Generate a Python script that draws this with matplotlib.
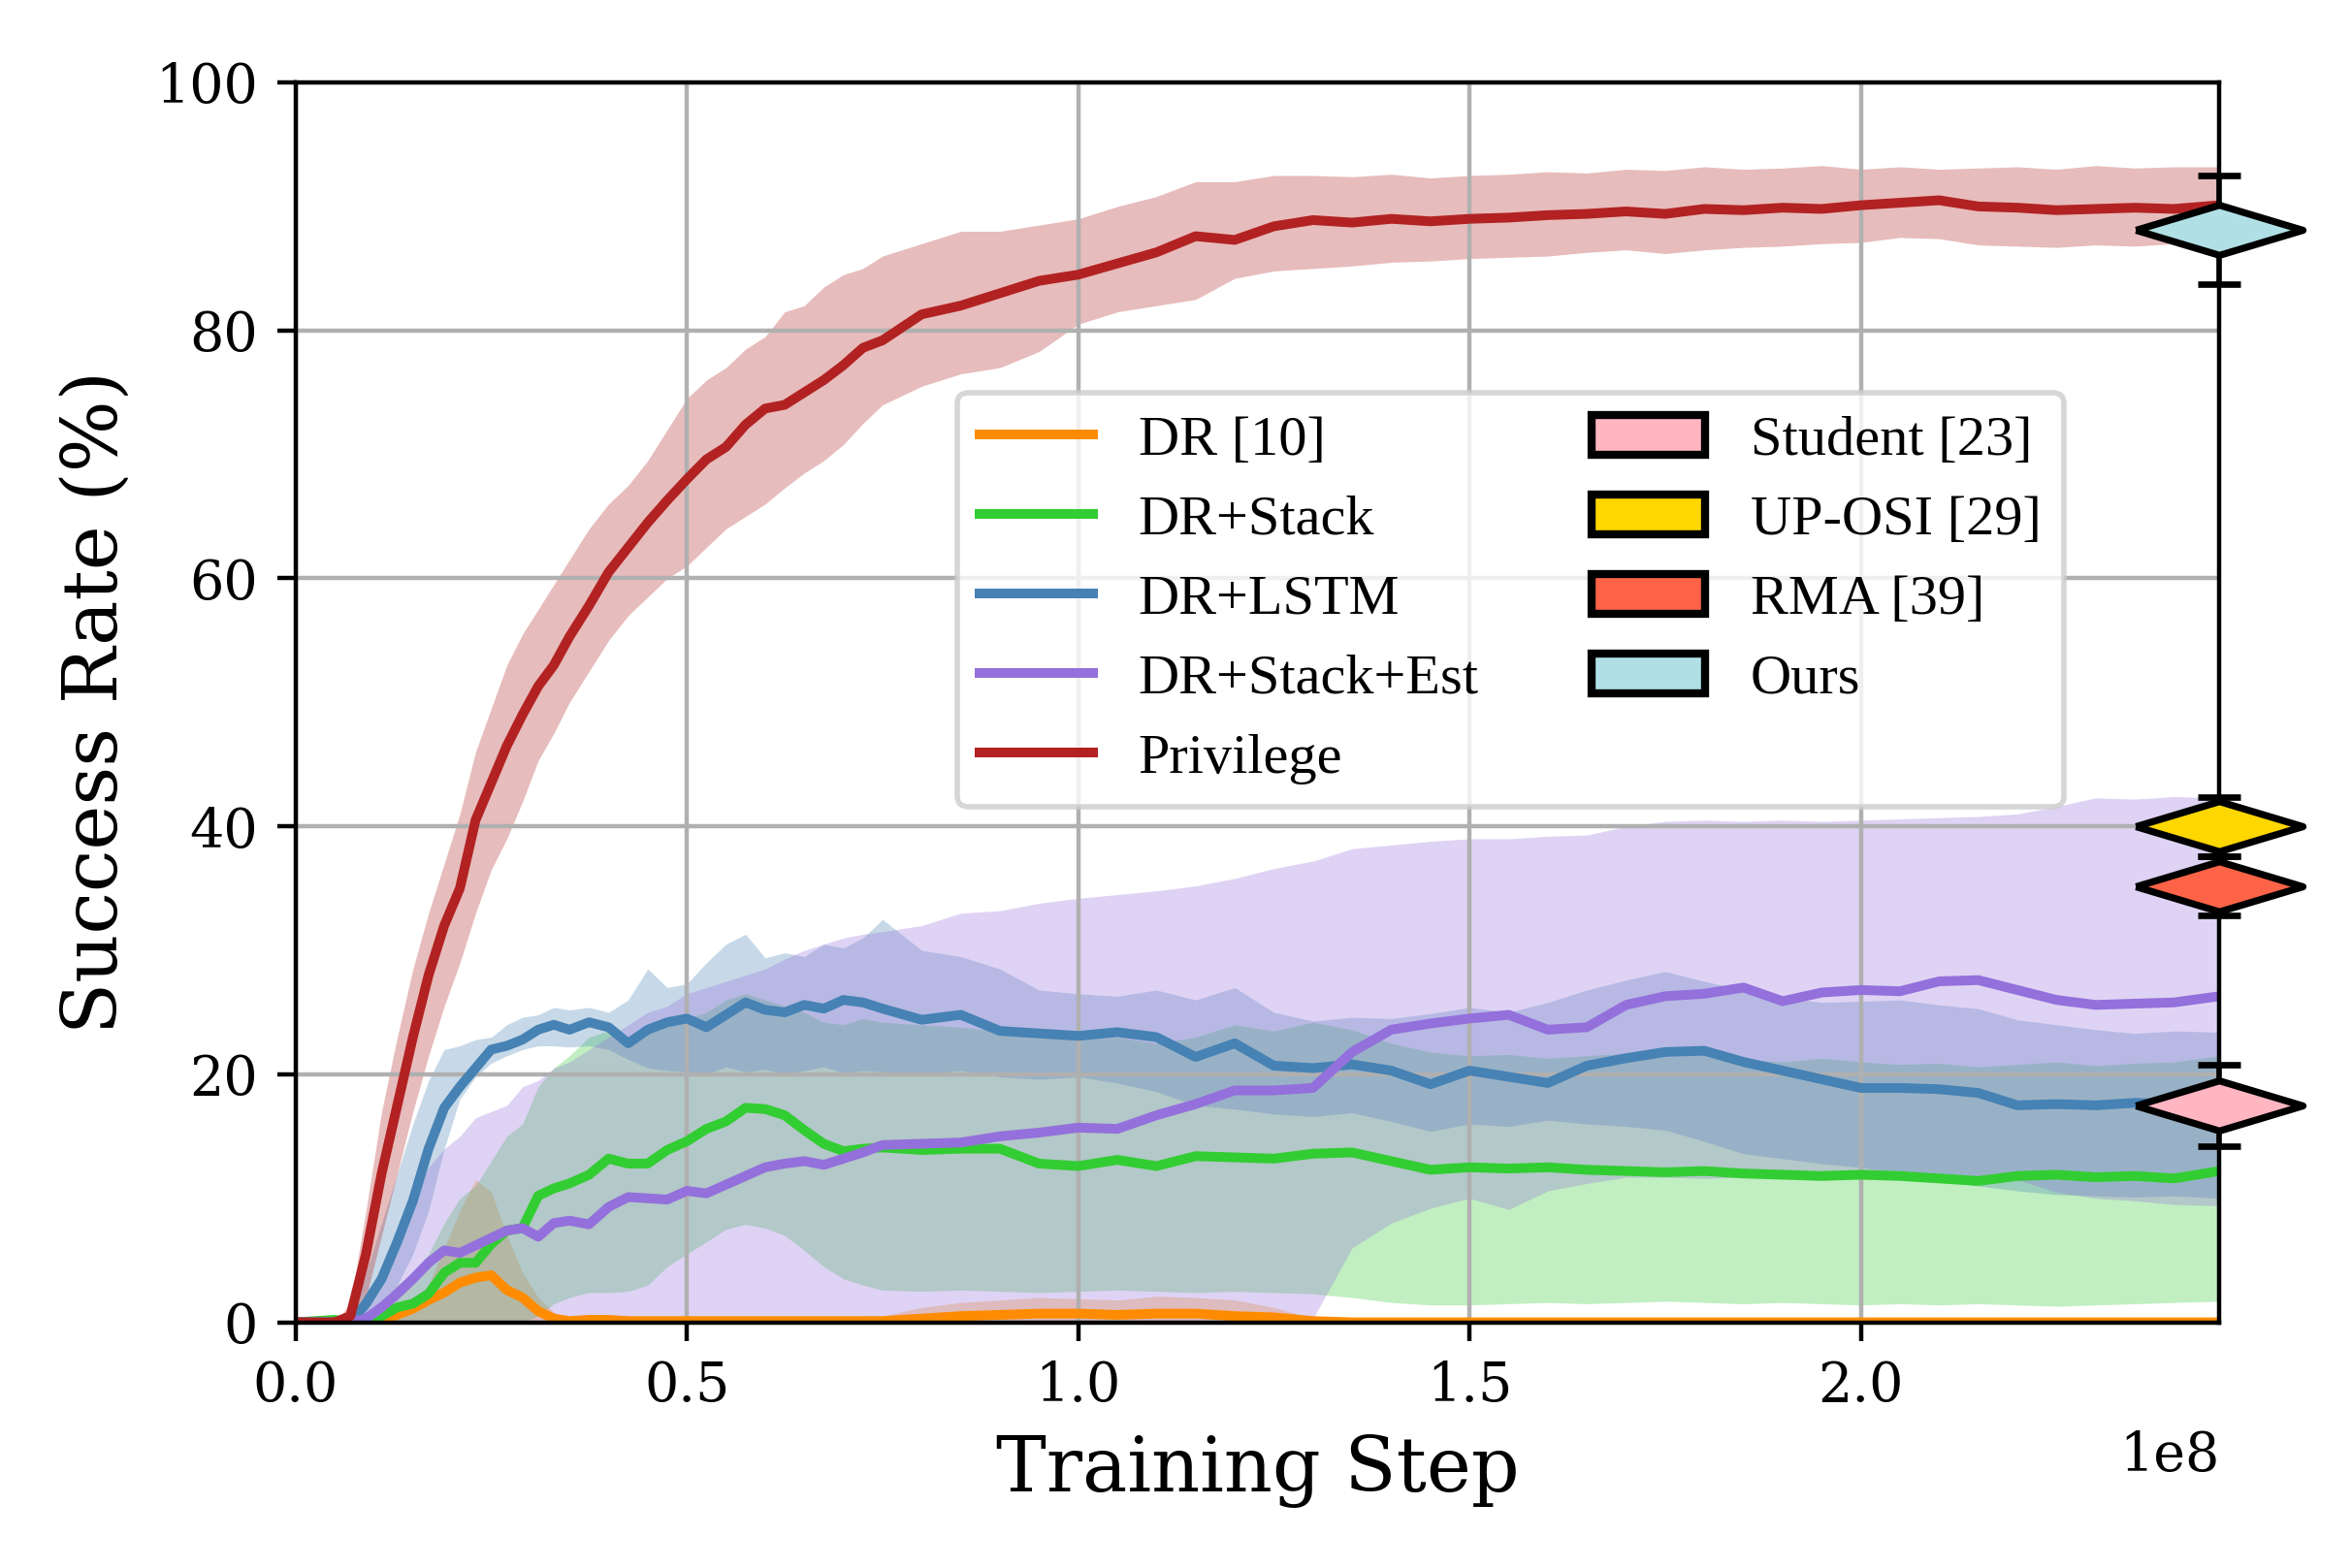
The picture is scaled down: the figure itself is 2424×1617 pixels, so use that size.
import numpy as np
import matplotlib.pyplot as plt
from matplotlib.patches import Patch

plt.rcParams["font.family"] = "DejaVu Serif"
plt.rcParams["font.size"] = 10

# x positions (in units of 1e8 training steps)
steps = [0.0, 0.05, 0.07, 0.09, 0.11, 0.13, 0.15, 0.17, 0.19, 0.21, 0.23, 0.25, 0.27, 0.29,
         0.31, 0.33, 0.35, 0.375, 0.4, 0.425, 0.45, 0.475, 0.5, 0.525, 0.55, 0.575, 0.6,
         0.625, 0.65, 0.675, 0.7, 0.725, 0.75, 0.8, 0.85, 0.9, 0.95, 1.0, 1.05, 1.1, 1.15,
         1.2, 1.25, 1.3, 1.35, 1.4, 1.45, 1.5, 1.55, 1.6, 1.65, 1.7, 1.75, 1.8, 1.85, 1.9,
         1.95, 2.0, 2.05, 2.1, 2.15, 2.2, 2.25, 2.3, 2.35, 2.4, 2.458]

# DR [10]
dr_mean = [0, 0, 0, 0, 0.2, 0.6, 1.1, 1.8, 2.4, 3.2, 3.6, 3.8, 2.6, 2.0,
           0.9, 0.3, 0.1, 0.2, 0.2, 0.1, 0.1, 0.1, 0.1, 0.1, 0.1, 0.1, 0.1,
           0.1, 0.1, 0.1, 0.1, 0.1, 0.1, 0.3, 0.5, 0.6, 0.7, 0.7, 0.6, 0.7, 0.7,
           0.5, 0.4, 0.1, 0, 0, 0, 0, 0, 0, 0, 0, 0, 0, 0, 0,
           0, 0, 0, 0, 0, 0, 0, 0, 0, 0, 0]
dr_hi = [0, 0, 0, 0, 0.3, 0.8, 1.5, 3.0, 6.0, 9.0, 11.5, 10.5, 7.0, 4.0,
         2.0, 0.8, 0.4, 0.5, 0.6, 0.5, 0.4, 0.4, 0.4, 0.4, 0.5, 0.4, 0.4,
         0.4, 0.5, 0.4, 0.4, 0.5, 0.5, 1.2, 1.6, 1.8, 2.0, 1.9, 1.8, 2.1, 2.0,
         1.8, 1.2, 0.3, 0, 0, 0, 0, 0, 0, 0, 0, 0, 0, 0, 0,
         0, 0, 0, 0, 0, 0, 0, 0, 0, 0, 0]
dr_lo = [0] * 67

# DR+Stack
stack_mean = [0, 0.2, 0, 0.1, 0.5, 1.2, 1.5, 2.3, 4.0, 4.8, 4.8, 6.3, 7.4, 7.6,
              10.2, 10.8, 11.2, 11.9, 13.2, 12.8, 12.8, 13.9, 14.6, 15.6, 16.2, 17.3, 17.2,
              16.7, 15.5, 14.4, 13.8, 14.0, 14.1, 13.9, 14.0, 14.0, 12.8, 12.6, 13.1, 12.6, 13.4,
              13.3, 13.2, 13.6, 13.7, 13.0, 12.3, 12.5, 12.4, 12.5, 12.3, 12.2, 12.1, 12.2, 12.0, 11.9,
              11.8, 11.9, 11.8, 11.6, 11.4, 11.8, 11.9, 11.7, 11.8, 11.6, 12.2]
stack_hi = [0, 0.5, 0.2, 0.5, 1.5, 3.0, 4.0, 5.5, 8.0, 10.0, 11.0, 13.0, 15.0, 16.0,
            19.0, 20.5, 21.5, 23.0, 23.5, 22.5, 23.5, 24.0, 24.5, 25.0, 26.0, 26.5, 26.0,
            25.5, 25.0, 24.2, 24.0, 24.5, 24.2, 24.0, 23.8, 23.5, 23.0, 22.8, 23.0, 22.5, 23.0,
            24.0, 23.5, 24.2, 23.6, 22.5, 21.8, 21.5, 21.6, 21.3, 21.5, 21.7, 21.4, 21.6, 21.2, 21.0,
            21.3, 21.0, 20.8, 20.9, 20.6, 20.8, 21.0, 20.7, 20.9, 21.0, 21.5]
stack_lo = [0, 0, 0, 0, 0, 0, 0, 0, 0, 0, 0, 0, 0, 0,
            0.5, 1.5, 2.0, 2.4, 2.4, 2.5, 3.0, 4.5, 5.5, 6.5, 7.5, 7.9, 7.6,
            7.0, 5.8, 4.5, 3.5, 3.0, 2.6, 2.5, 2.6, 2.5, 2.4, 2.5, 2.6, 2.5, 2.4,
            2.5, 2.4, 2.3, 2.0, 1.6, 1.4, 1.4, 1.5, 1.6, 1.5, 1.6, 1.7, 1.6, 1.5, 1.6,
            1.5, 1.4, 1.5, 1.4, 1.5, 1.4, 1.3, 1.4, 1.5, 1.6, 1.7]

# DR+LSTM
lstm_mean = [0, 0, 0, 1.5, 3.5, 6.5, 9.8, 14.0, 17.3, 19.0, 20.5, 22.0, 22.3, 22.8,
             23.6, 24.0, 23.6, 24.2, 23.8, 22.5, 23.6, 24.2, 24.5, 23.8, 24.8, 25.8, 25.2,
             25.0, 25.6, 25.3, 26.0, 25.8, 25.3, 24.4, 24.8, 23.5, 23.3, 23.1, 23.4, 23.0, 21.4,
             22.5, 20.7, 20.5, 20.8, 20.3, 19.2, 20.3, 19.8, 19.3, 20.7, 21.3, 21.8, 21.9, 21.0, 20.3,
             19.6, 18.9, 18.9, 18.8, 18.5, 17.5, 17.6, 17.5, 17.7, 17.6, 17.6]
lstm_hi = [0, 0, 0.5, 4.0, 8.0, 12.0, 16.0, 19.5, 22.0, 22.3, 22.8, 23.0, 24.0, 24.6,
           24.8, 25.4, 25.2, 25.4, 25.0, 26.0, 28.5, 27.0, 27.3, 29.0, 30.5, 31.3, 29.4,
           29.8, 29.5, 30.5, 30.2, 31.0, 32.5, 30.0, 29.5, 28.5, 26.8, 26.5, 26.3, 26.8, 26.0,
           27.0, 25.0, 24.3, 24.6, 24.5, 24.9, 25.4, 25.0, 25.8, 26.8, 27.6, 28.3, 27.5, 26.8, 26.2,
           25.8, 25.9, 26.0, 25.6, 25.3, 24.4, 24.0, 23.6, 23.3, 23.5, 23.4]
lstm_lo = [0, 0, 0, 0, 1.0, 3.0, 5.5, 9.0, 14.0, 18.0, 19.8, 20.9, 21.5, 22.0,
           22.3, 22.3, 22.2, 22.3, 22.0, 21.2, 20.5, 20.3, 20.2, 20.0, 20.6, 20.2, 20.4,
           20.0, 20.3, 20.6, 20.1, 20.3, 20.2, 20.0, 20.3, 19.8, 19.6, 19.8, 19.3, 18.6, 17.5,
           17.2, 16.8, 16.6, 16.9, 16.2, 15.4, 16.0, 15.8, 16.3, 16.0, 15.8, 15.5, 14.6, 13.6, 13.2,
           12.8, 12.5, 12.0, 11.4, 11.0, 10.6, 10.3, 10.2, 10.1, 10.2, 10.0]

# DR+Stack+Est
est_mean = [0, 0, 0, 0.3, 1.2, 2.3, 3.5, 4.8, 5.8, 5.6, 6.2, 6.8, 7.4, 7.6,
            6.9, 8.0, 8.2, 7.9, 9.3, 10.1, 10.0, 9.9, 10.6, 10.4, 11.1, 11.8, 12.5,
            12.8, 13.0, 12.7, 13.2, 13.7, 14.3, 14.4, 14.5, 15.0, 15.3, 15.7, 15.6, 16.7, 17.6,
            18.7, 18.7, 18.9, 21.8, 23.6, 24.1, 24.5, 24.8, 23.6, 23.8, 25.6, 26.3, 26.5, 27.0, 25.9,
            26.6, 26.8, 26.7, 27.5, 27.6, 26.8, 26.0, 25.6, 25.7, 25.8, 26.3]
est_hi = [0, 0, 0.3, 1.5, 4.0, 7.0, 10.0, 12.5, 14.0, 15.0, 16.5, 17.0, 17.5, 19.0,
          19.5, 20.5, 21.0, 22.0, 23.0, 24.0, 25.0, 25.5, 26.5, 27.0, 27.5, 28.0, 28.5,
          29.3, 30.0, 30.5, 31.0, 31.3, 31.5, 32.0, 33.0, 33.2, 33.8, 34.2, 34.5, 34.8, 35.2,
          35.8, 36.6, 37.2, 38.2, 38.5, 38.8, 39.0, 39.0, 39.2, 39.3, 40.0, 40.4, 40.5, 40.4, 40.5,
          40.4, 40.5, 40.6, 40.7, 40.8, 41.0, 41.6, 42.3, 42.2, 42.4, 42.3]
est_lo = [0, 0, 0, 0, 0, 0, 0, 0, 0, 0, 0, 0, 0, 0,
          0, 0, 0, 0, 0, 0, 0, 0, 0, 0, 0, 0, 0,
          0, 0, 0, 0, 0, 0, 0, 0, 0, 0, 0, 0, 0, 0,
          0, 0, 0.3, 6.0, 8.0, 9.2, 10.0, 9.1, 10.6, 11.2, 11.7, 11.7, 11.6, 11.7, 11.6,
          11.7, 11.6, 11.7, 11.5, 11.6, 11.5, 10.5, 10.0, 9.8, 9.5, 9.4]

# Privilege
priv_mean = [0, 0, 0.5, 5.5, 12.0, 17.5, 23.0, 28.0, 32.0, 35.0, 40.5, 43.5, 46.5, 49.0,
             51.3, 53.0, 55.3, 57.8, 60.5, 62.5, 64.5, 66.3, 68.0, 69.6, 70.6, 72.4, 73.7,
             74.0, 75.0, 76.0, 77.2, 78.6, 79.2, 81.3, 82.0, 83.0, 84.0, 84.5, 85.4, 86.3, 87.6,
             87.3, 88.4, 88.9, 88.7, 89.0, 88.8, 89.0, 89.1, 89.3, 89.4, 89.6, 89.4, 89.8, 89.7, 89.9,
             89.8, 90.1, 90.3, 90.5, 90.0, 89.9, 89.7, 89.8, 89.9, 89.8, 90.1]
priv_hi = [0, 0, 1.5, 9.0, 17.0, 23.0, 28.5, 33.0, 37.0, 41.0, 46.0, 49.5, 53.0, 55.5,
           57.5, 59.5, 61.5, 64.0, 66.0, 67.5, 69.5, 72.0, 74.5, 76.0, 77.0, 78.5, 79.5,
           81.5, 82.0, 83.5, 84.5, 85.0, 86.0, 87.0, 88.0, 88.0, 88.5, 89.0, 90.0, 90.8, 92.0,
           92.0, 92.5, 92.5, 92.4, 92.6, 92.3, 92.5, 92.6, 92.8, 92.7, 93.0, 92.9, 93.2, 93.0, 93.1,
           93.3, 93.0, 93.2, 93.0, 93.1, 93.2, 93.0, 93.3, 93.1, 93.2, 93.2]
priv_lo = [0, 0, 0, 2.0, 7.0, 12.0, 17.0, 21.5, 25.5, 29.0, 33.0, 36.5, 39.0, 42.0,
           45.3, 47.5, 50.0, 52.5, 55.0, 57.0, 58.5, 60.0, 61.0, 62.5, 64.0, 65.0, 66.0,
           67.3, 68.5, 69.5, 70.8, 72.5, 74.0, 75.5, 76.5, 77.0, 78.3, 80.5, 81.5, 82.0, 82.5,
           84.2, 84.8, 85.0, 85.2, 85.5, 85.6, 85.8, 85.9, 86.0, 86.3, 86.5, 86.2, 86.5, 86.7, 86.8,
           87.0, 87.1, 87.5, 87.4, 86.9, 86.8, 86.7, 86.9, 86.8, 87.0, 86.8]

# final evaluation of the other methods (mean, std)
final_names = ["Student [23]", "UP-OSI [29]", "RMA [39]", "Ours"]
final_mean = [17.5, 40.0, 35.2, 88.1]
final_err = [3.3, 2.4, 2.4, 4.4]
final_colors = ["lightpink", "gold", "tomato", "powderblue"]

curves = [
    ("DR [10]", dr_mean, dr_lo, dr_hi, "darkorange"),
    ("DR+Stack", stack_mean, stack_lo, stack_hi, "limegreen"),
    ("DR+LSTM", lstm_mean, lstm_lo, lstm_hi, "steelblue"),
    ("DR+Stack+Est", est_mean, est_lo, est_hi, "mediumpurple"),
    ("Privilege", priv_mean, priv_lo, priv_hi, "firebrick"),
]

x = np.array(steps) * 1e8
x_end = x[-1]

fig = plt.figure(figsize=(6.06, 4.0425), dpi=400)
ax = fig.add_axes([0.1257, 0.1567, 0.8183, 0.7907])

handles = []
for name, m, lo, hi, c in curves:
    ax.fill_between(x, lo, hi, color=c, alpha=0.3, linewidth=0)
    line, = ax.plot(x, m, color=c, linewidth=1.8, label=name)
    handles.append(line)

# diamond markers with error bars on the right edge
diamond = [(-1, 0), (0, 0.3), (1, 0), (0, -0.3), (-1, 0)]
for name, m, e, c in zip(final_names, final_mean, final_err, final_colors):
    ax.errorbar(x_end, m, yerr=e, fmt="none", ecolor="black", elinewidth=1.0,
                capsize=4, capthick=1.2, clip_on=False, zorder=3)
    ax.plot(x_end, m, marker=diamond, markersize=31, markerfacecolor=c,
            markeredgecolor="black", markeredgewidth=1.3, linestyle="none",
            clip_on=False, zorder=3)
    handles.append(Patch(facecolor=c, edgecolor="black", linewidth=1.5, label=name))

ax.set_xlim(0, x_end)
ax.set_ylim(0, 100)
ax.set_yticks([0, 20, 40, 60, 80, 100])
ax.grid(True)
ax.set_xlabel("Training Step", fontsize=14)
ax.set_ylabel("Success Rate (%)", fontsize=14)

ax.legend(handles=handles, ncol=2, loc="upper left", bbox_to_anchor=(0.344, 0.75),
          borderaxespad=0, prop={"family": "Liberation Serif", "size": 10.5})

fig.savefig("out.png", dpi=400)
